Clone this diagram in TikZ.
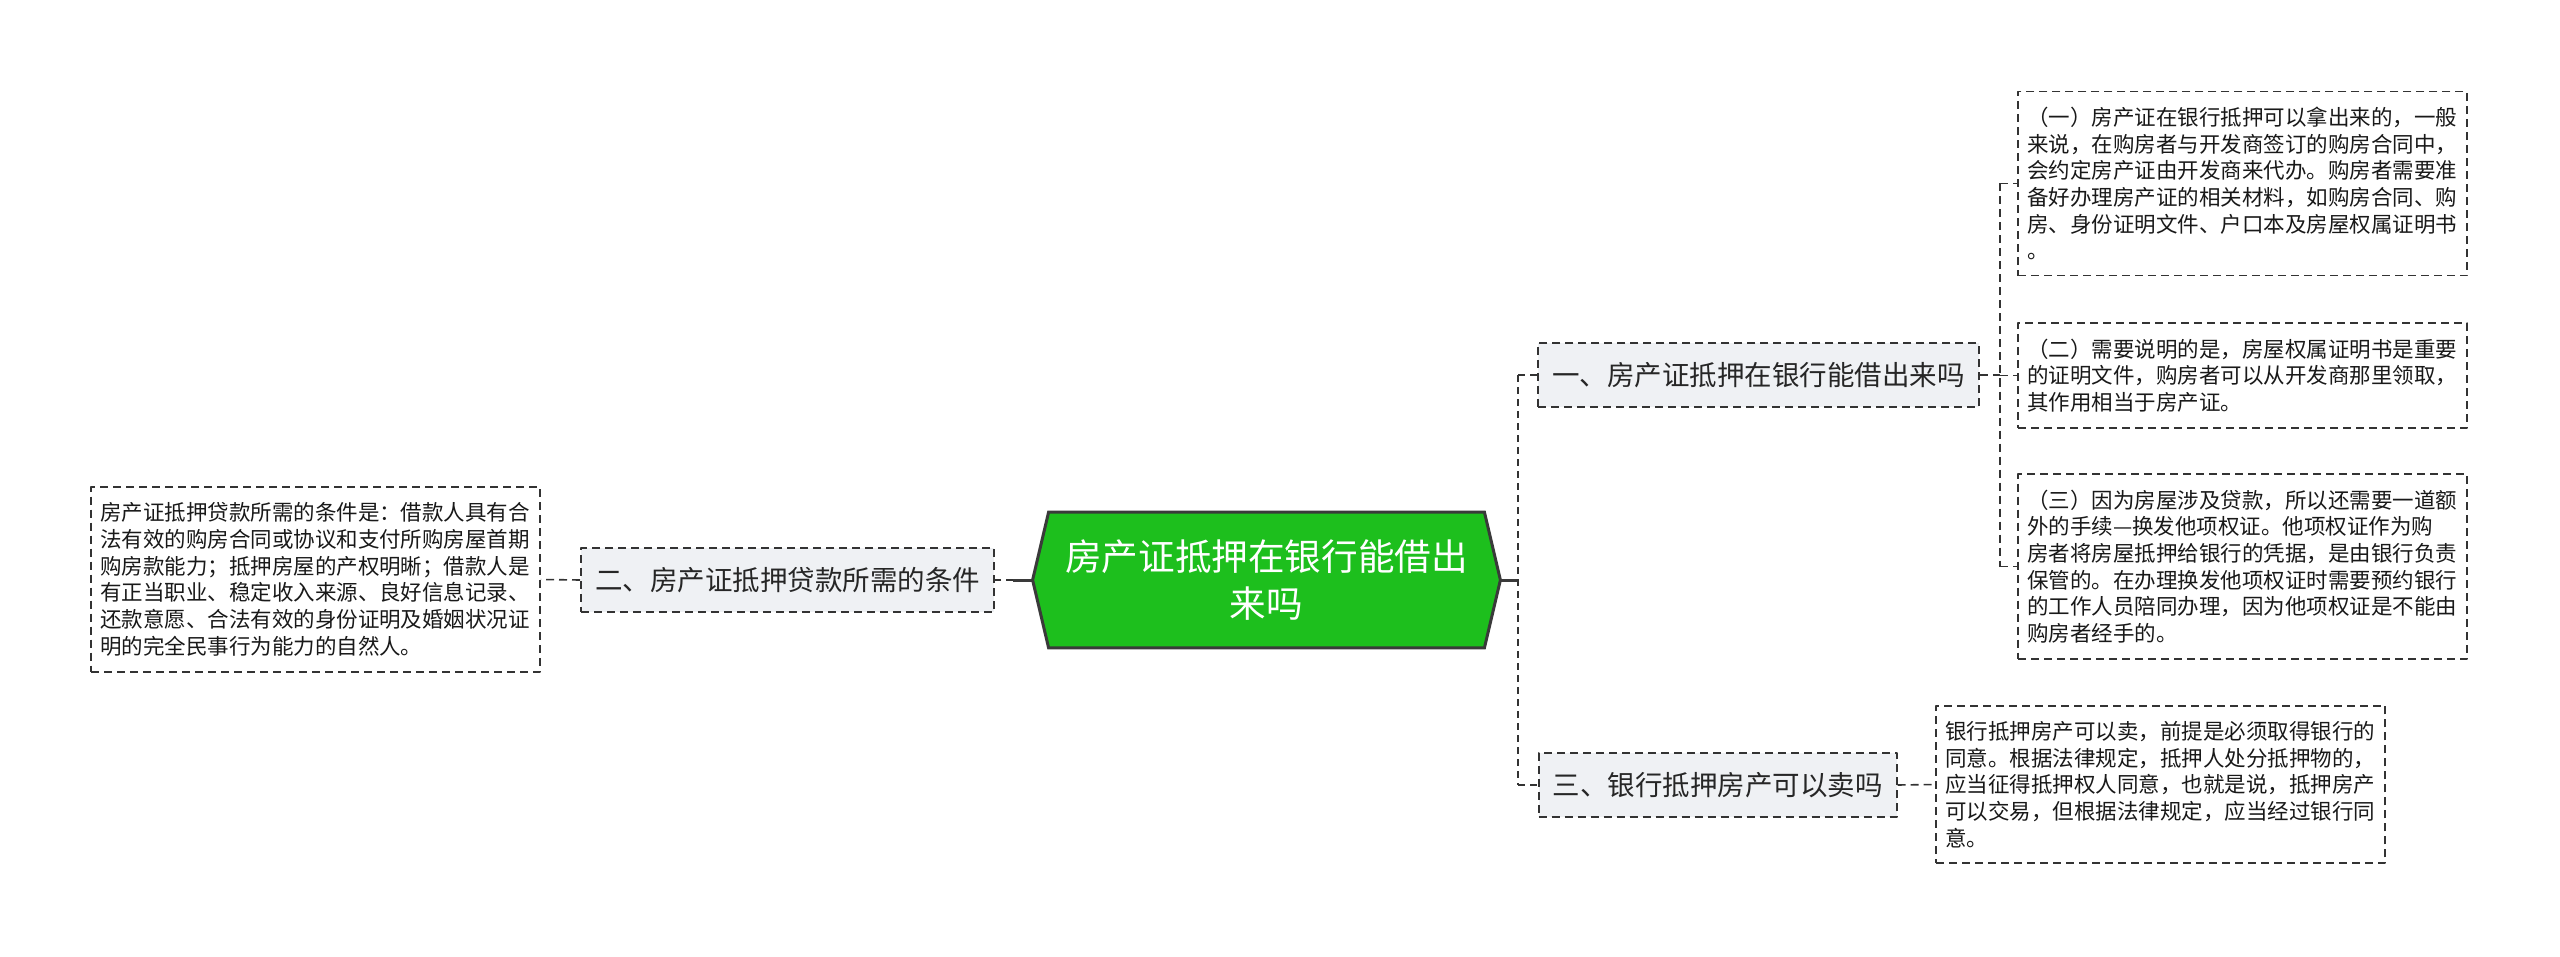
\documentclass[tikz,border=0pt]{standalone}
\usepackage{fontspec}
\newfontfamily\cjk{Noto Sans CJK SC}
\usetikzlibrary{backgrounds}
\definecolor{rootgreen}{RGB}{29,191,29}
\definecolor{rootedge}{RGB}{58,58,58}
\definecolor{branchfill}{RGB}{239,241,244}
\definecolor{inkgray}{RGB}{51,51,51}
\begin{document}
\begin{tikzpicture}[x=0.5pt, y=-0.5pt, font=\cjk, line join=round,
    rootnode/.style={text=white, font=\cjk\fontsize{18.3}{23.5}\selectfont, align=center,
      minimum width=217.5pt, minimum height=67.5pt, inner sep=0pt},
    branchbox/.style={draw=inkgray, line width=1pt, dash pattern=on 4pt off 2.5pt, fill=branchfill,
      font=\cjk\fontsize{13.75}{16}\selectfont, minimum height=32pt, inner xsep=7pt, inner ysep=0pt, text=black!85},
    leafbox/.style={draw=inkgray, line width=0.8pt, dash pattern=on 4pt off 2.5pt, fill=white,
      font=\cjk\fontsize{10.75}{13.35}\selectfont, text width=215.5pt, inner xsep=4.5pt, inner ysep=7.75pt,
      align=left, text=black!90},
    rootlink/.style={draw=rootedge, line width=1.5pt},
    mainlink/.style={draw=inkgray, line width=1.4pt, dash pattern=on 3.5pt off 2.5pt},
    leaflink/.style={draw=inkgray, line width=0.8pt, dash pattern=on 4pt off 2.5pt}]
  \useasboundingbox (0,0) rectangle (2560,957);
  \node[rootnode] (root) at (1266.5,580) {房产证抵押在银行能借出\\来吗};
  \coordinate (rootR) at ([xshift=8pt]root.east);
  \coordinate (rootL) at ([xshift=-8pt]root.west);
  \begin{scope}[on background layer]
    \draw[fill=rootgreen, draw=rootedge, line width=1.5pt] (root.north west) -- (root.north east) -- (rootR)
      -- (root.south east) -- (root.south west) -- (rootL) -- cycle;
  \end{scope}
  \node[branchbox] (b1) at (1758.5,375) {一、房产证抵押在银行能借出来吗};
  \node[branchbox] (b2) at (787.5,580) {二、房产证抵押贷款所需的条件};
  \node[branchbox] (b3) at (1717.5,785) {三、银行抵押房产可以卖吗};
  \node[leafbox] (l1) at (2242.5,183.5) {（一）房产证在银行抵押可以拿出来的，一般\\来说，在购房者与开发商签订的购房合同中，\\会约定房产证由开发商来代办。购房者需要准\\备好办理房产证的相关材料，如购房合同、购\\房、身份证明文件、户口本及房屋权属证明书\\。};
  \node[leafbox] (l2) at (2242.5,375.5) {（二）需要说明的是，房屋权属证明书是重要\\的证明文件，购房者可以从开发商那里领取，\\其作用相当于房产证。};
  \node[leafbox] (l3) at (2242.5,566.5) {（三）因为房屋涉及贷款，所以还需要一道额\\外的手续—换发他项权证。他项权证作为购\\房者将房屋抵押给银行的凭据，是由银行负责\\保管的。在办理换发他项权证时需要预约银行\\的工作人员陪同办理，因为他项权证是不能由\\购房者经手的。};
  \node[leafbox] (l4) at (2160.5,784.5) {银行抵押房产可以卖，前提是必须取得银行的\\同意。根据法律规定，抵押人处分抵押物的，\\应当征得抵押权人同意，也就是说，抵押房产\\可以交易，但根据法律规定，应当经过银行同\\意。};
  \node[leafbox] (l0) at (315.5,579.5) {房产证抵押贷款所需的条件是：借款人具有合\\法有效的购房合同或协议和支付所购房屋首期\\购房款能力；抵押房屋的产权明晰；借款人是\\有正当职业、稳定收入来源、良好信息记录、\\还款意愿、合法有效的身份证明及婚姻状况证\\明的完全民事行为能力的自然人。};
  \coordinate (jR) at (1518,580);
  \coordinate (jL) at (1013,580);
  \coordinate (j1) at (2000,375);
  \draw[rootlink] (rootR) -- (jR);
  \draw[mainlink] (jR |- b1) -- (jR |- b3);
  \draw[mainlink] (jR |- b1) -- (b1.west) (jR |- b3) -- (b3.west);
  \draw[rootlink] (rootL) -- (jL);
  \draw[mainlink] (jL) -- (b2.east);
  \draw[leaflink] (b2.west) -- (l0.east);
  \draw[leaflink] (b1.east) -- (j1);
  \draw[leaflink] (j1 |- l1) -- (j1 |- l3);
  \draw[leaflink] (j1 |- l1) -- (l1.west) (j1 |- l2) -- (l2.west) (j1 |- l3) -- (l3.west);
  \draw[leaflink] (b3.east) -- (l4.west);
\end{tikzpicture}
\end{document}
